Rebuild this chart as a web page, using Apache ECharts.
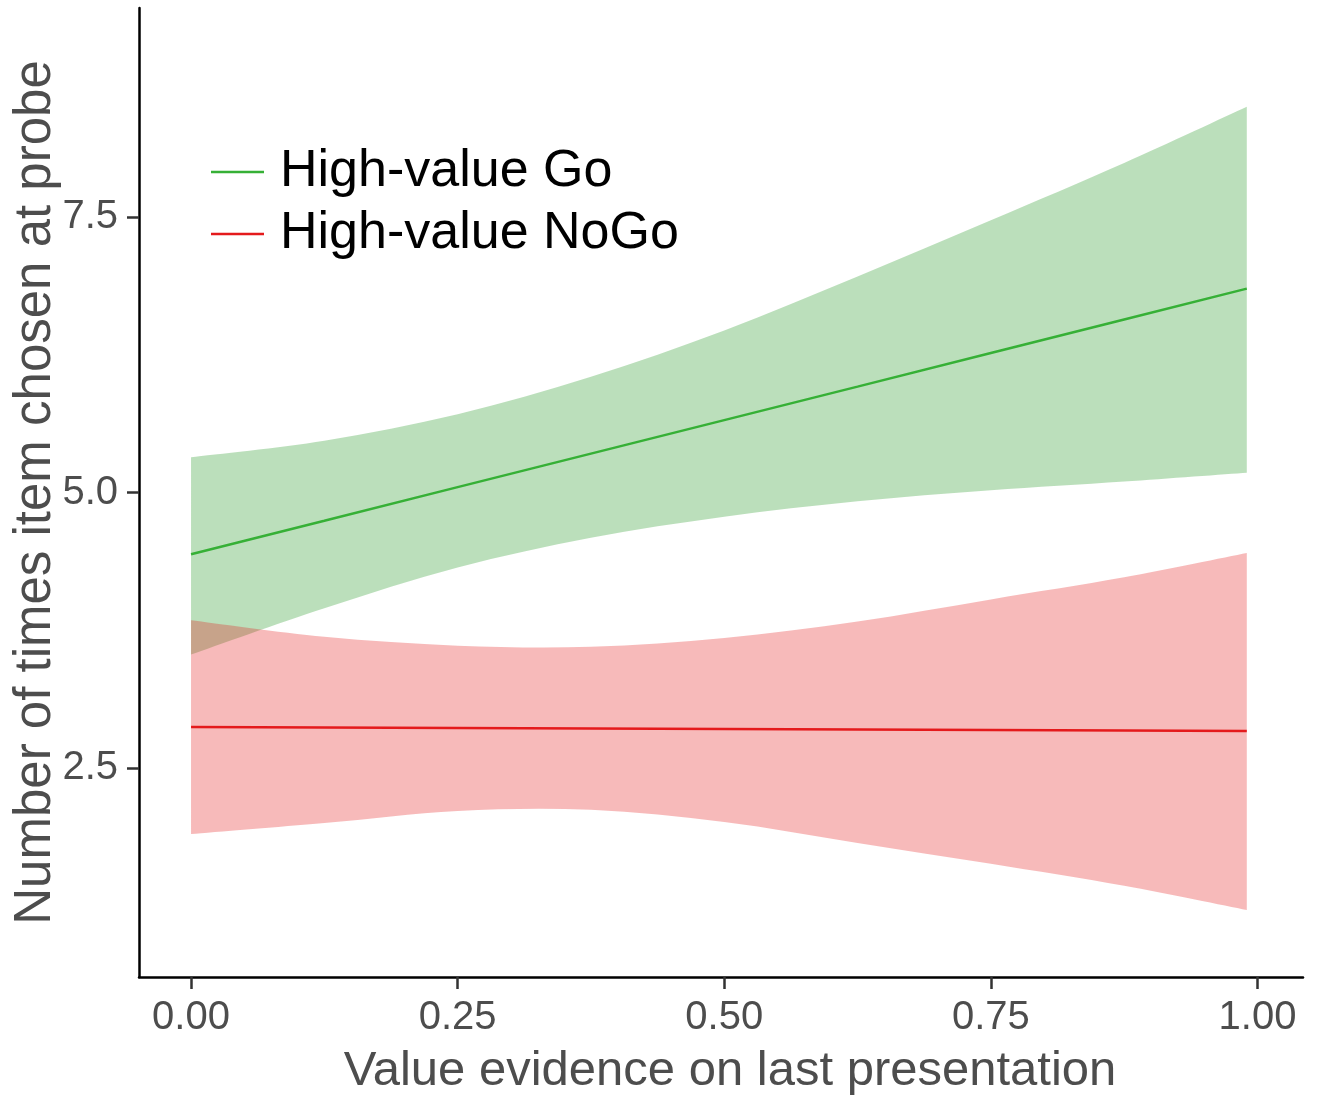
<!DOCTYPE html>
<html>
<head>
<meta charset="utf-8">
<script src="https://cdn.jsdelivr.net/npm/echarts@6/dist/echarts.min.js"></script>
<style>
html,body{margin:0;padding:0;background:#fff;}
#chart{width:1319px;height:1100px;}
</style>
</head>
<body>
<div id="chart"></div>
<script>
// Data
const xValues   = [0, 0.125, 0.25, 0.375, 0.5, 0.625, 0.75, 0.875, 0.99];
const goFit     = [4.44, 4.744, 5.049, 5.353, 5.657, 5.961, 6.266, 6.570, 6.85];
const goLower   = [3.53, 3.95, 4.32, 4.59, 4.78, 4.92, 5.02, 5.10, 5.18];
const goUpper   = [5.32, 5.47, 5.71, 6.05, 6.47, 6.96, 7.47, 7.99, 8.50];
const nogoFit   = [2.872, 2.867, 2.863, 2.858, 2.854, 2.849, 2.845, 2.840, 2.836];
const nogoLower = [1.90, 2.00, 2.11, 2.12, 2.01, 1.82, 1.63, 1.43, 1.21];
const nogoUpper = [3.84, 3.69, 3.61, 3.60, 3.68, 3.83, 4.03, 4.23, 4.45];
const xTicks = [0, 0.25, 0.5, 0.75, 1.0];
const yTicks = [2.5, 5.0, 7.5];
const seriesNames = ['High-value Go', 'High-value NoGo'];
const xTitle = 'Value evidence on last presentation';
const yTitle = 'Number of times item chosen at probe';

const FONT = '"Liberation Sans", Arial, Helvetica, sans-serif';
const pairs = (ys) => xValues.map((x, i) => [x, ys[i]]);
const bandData = (lo, hi) => xValues.map((x, i) => [x, lo[i], hi[i]]);

// Catmull-Rom -> cubic bezier path through pixel points
function curvePath(pts, moveFirst) {
  let d = (moveFirst ? 'M' : 'L') + pts[0][0] + ',' + pts[0][1];
  for (let i = 0; i < pts.length - 1; i++) {
    const p0 = pts[i - 1] || pts[i], p1 = pts[i], p2 = pts[i + 1], p3 = pts[i + 2] || pts[i + 1];
    const c1 = [p1[0] + (p2[0] - p0[0]) / 6, p1[1] + (p2[1] - p0[1]) / 6];
    const c2 = [p2[0] - (p3[0] - p1[0]) / 6, p2[1] - (p3[1] - p1[1]) / 6];
    d += 'C' + c1[0] + ',' + c1[1] + ' ' + c2[0] + ',' + c2[1] + ' ' + p2[0] + ',' + p2[1];
  }
  return d;
}

function bandRenderer(color) {
  return function (params, api) {
    if (params.dataIndex !== 0) return null;
    const upper = [], lower = [];
    for (let i = 0; i < xValues.length; i++) {
      upper.push(api.coord([api.value(0, i), api.value(2, i)]));
      lower.push(api.coord([api.value(0, i), api.value(1, i)]));
    }
    const d = curvePath(upper, true) + curvePath(lower.slice().reverse(), false) + 'Z';
    return {
      type: 'path',
      shape: {pathData: d},
      style: {fill: color, stroke: null}
    };
  };
}

const chart = echarts.init(document.getElementById('chart'), null, {renderer: 'canvas'});
chart.setOption({
  animation: false,
  backgroundColor: '#ffffff',
  grid: {left: 139, top: 8, right: 16, bottom: 123, containLabel: false, outerBoundsMode: 'none'},
  legend: {
    left: 206, top: 141, orient: 'vertical',
    data: seriesNames,
    icon: 'rect', itemWidth: 53, itemHeight: 2.5, itemGap: 10,
    textStyle: {fontFamily: FONT, fontSize: 52, color: '#000', lineHeight: 52, padding: [0, 0, 0, 11]}
  },
  xAxis: {
    type: 'value', min: -0.0488, max: 1.0427,
    name: xTitle, nameLocation: 'middle', nameGap: 70, nameMoveOverlap: false,
    nameTextStyle: {fontFamily: FONT, fontSize: 49, color: '#4d4d4d', padding: [0, 0, 0, 18]},
    axisLine: {show: true, onZero: false, lineStyle: {color: '#000', width: 2.5}},
    axisTick: {show: true, length: 12, lineStyle: {color: '#333', width: 2.5}, customValues: xTicks},
    axisLabel: {show: true, customValues: xTicks, margin: 21, fontFamily: FONT, fontSize: 40, color: '#4d4d4d',
      formatter: v => Number(v).toFixed(2)},
    splitLine: {show: false}
  },
  yAxis: {
    type: 'value', min: 0.603, max: 9.397,
    name: yTitle, nameLocation: 'middle', nameGap: 78, nameRotate: 90, nameMoveOverlap: false,
    nameTextStyle: {fontFamily: FONT, fontSize: 51, color: '#4d4d4d'},
    axisLine: {show: true, onZero: false, lineStyle: {color: '#000', width: 2.5}},
    axisTick: {show: true, length: 12, lineStyle: {color: '#333', width: 2.5}, customValues: yTicks},
    axisLabel: {show: true, customValues: yTicks, margin: 21, fontFamily: FONT, fontSize: 40, color: '#4d4d4d',
      formatter: v => Number(v).toFixed(1)},
    splitLine: {show: false}
  },
  series: [
    {name: 'goBand', type: 'custom', data: bandData(goLower, goUpper), encode: {x: 0, y: [1, 2]},
      renderItem: bandRenderer('rgba(30,150,30,0.3)'), silent: true, z: 1, clip: true},
    {name: 'nogoBand', type: 'custom', data: bandData(nogoLower, nogoUpper), encode: {x: 0, y: [1, 2]},
      renderItem: bandRenderer('rgba(228,26,28,0.3)'), silent: true, z: 2, clip: true},
    {name: seriesNames[0], type: 'line', data: pairs(goFit), symbol: 'none', color: '#36b036',
      lineStyle: {color: '#36b036', width: 2.5}, z: 3},
    {name: seriesNames[1], type: 'line', data: pairs(nogoFit), symbol: 'none', color: '#e41a1c',
      lineStyle: {color: '#e41a1c', width: 2.5}, z: 3}
  ]
});
</script>
</body>
</html>
